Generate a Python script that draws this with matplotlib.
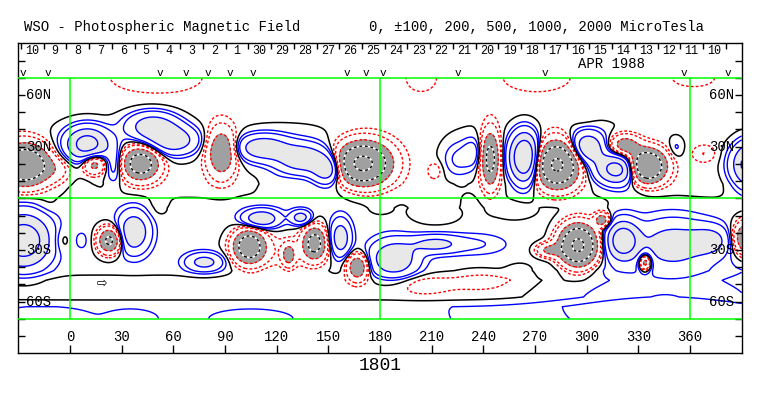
import numpy as np
import matplotlib
matplotlib.use('Agg')
import matplotlib.pyplot as plt

# axis labels
lon_ticks = [0, 30, 60, 90, 120, 150, 180, 210, 240, 270, 300, 330, 360]
lat_ticks = [6/7, 3/7, -3/7, -6/7]
lat_labels = ['60N', '30N', '30S', '60S']
day_labels = ['10', '9', '8', '7', '6', '5', '4', '3', '2', '1', '30', '29', '28', '27', '26',
              '25', '24', '23', '22', '21', '20', '19', '18', '17', '16', '15', '14', '13',
              '12', '11', '10']
v_marks = [-27.3, -12.8, 52.3, 67.4, 80.1, 92.9, 106.3, 160.8, 171.9, 181.7, 225.3, 275.8, 356.5, 382.0]

# field features (lon, sine-lat, microtesla, spread lon, spread lat)
blob_lon = [-26, -8, 10, 14, 26, 41, 48, 60, 88, 112, 135, 150, 170, 212, 225, 234, 244, 264,
            283, 300, 318, 335, 322, 352, 368, 397,
            50, 204, 271, 362, 298,
            10, 130, 235, 315,
            -27, -5, 7, 23, 37, 78, 104, 111, 134, 127, 125, 142, 157, 167,
            188, 212, 236, 205, 240, 262, 295, 278, 309, 321, 350, 372, 334, 395,
            345, -15, 35, 105, 212, 258,
            -13, 51, 180, 305, 6, 118, 160, 330]
blob_lat = [0.28, 0.24, 0.45, 0.29, 0.28, 0.29, 0.60, 0.48, 0.38, 0.42, 0.33, 0.24, 0.29, 0.23,
            0.32, 0.38, 0.33, 0.34, 0.28, 0.42, 0.24, 0.27, 0.44, 0.42, 0.37, 0.28,
            1.0, 1.0, 1.0, 1.0, 0.68,
            0.38, 0.38, 0.38, 0.38,
            -0.35, -0.35, -0.35, -0.35, -0.28, -0.53, -0.40, -0.17, -0.16, -0.47, -0.45, -0.37,
            -0.33, -0.57,
            -0.5, -0.38, -0.38, -0.72, -0.68, -0.6, -0.39, -0.43, -0.18, -0.35, -0.38, -0.35,
            -0.53, -0.33,
            -0.88, -1.0, -1.0, -1.0, -0.12, -0.1,
            -0.06, -0.08, -0.08, -0.06, 0.08, 0.1, 0.06, 0.06]
blob_amp = [-1900, -250, 1300, -800, 350, -1500, 800, 800, -1000, 850, 850, 900, -2300, -160,
            220, 260, -1300, 1900, -2200, 900, 1300, -2100, -800, 150, -160, 1600,
            -110, -100, -105, -95, -70,
            110, 110, 90, 110,
            1500, -150, 90, -1200, 900, 650, -1600, 900, 700, -700, -180, -1300, 800, -1000,
            900, 600, 170, -130, -130, -100, -2300, -600, -800, 1500, 700, 550, -900, -1400,
            250, 40, 40, 40, -90, -90,
            -60, -70, -60, -60, 70, 70, 50, 50]
blob_wlon = [9, 7, 8, 4.5, 3.5, 7, 10, 10, 5.5, 10, 10, 6, 10, 3, 6, 4, 3.5, 5.5, 8, 7, 8, 7, 6,
             3, 5, 8,
             20, 7, 15, 10, 5,
             30, 28, 15, 25,
             10, 4, 4, 4.5, 6, 7, 6, 7, 4, 2.5, 18, 4.5, 4, 4,
             9, 10, 12, 12, 14, 6, 7, 5, 3, 6, 14, 8, 2.5, 6,
             45, 15, 8, 12, 12, 10,
             5, 5, 6, 8, 5, 5, 8, 8]
blob_wlat = [0.11, 0.07, 0.09, 0.06, 0.1, 0.09, 0.08, 0.08, 0.13, 0.07, 0.08, 0.08, 0.11, 0.05,
             0.1, 0.08, 0.15, 0.13, 0.12, 0.09, 0.08, 0.09, 0.06, 0.06, 0.05, 0.12,
             0.1, 0.09, 0.09, 0.06, 0.05,
             0.2, 0.2, 0.2, 0.2,
             0.14, 0.07, 0.07, 0.07, 0.11, 0.05, 0.09, 0.05, 0.04, 0.06, 0.12, 0.09, 0.1, 0.07,
             0.1, 0.05, 0.06, 0.06, 0.07, 0.05, 0.11, 0.04, 0.04, 0.1, 0.13, 0.08, 0.05, 0.09,
             0.24, 0.05, 0.04, 0.04, 0.08, 0.06,
             0.05, 0.06, 0.05, 0.05, 0.06, 0.06, 0.05, 0.05]

# background by latitude
bg_lat = [-1.0, -0.9, -0.82, -0.68, -0.6, -0.08, 0.12, 1.0]
bg_val = [95, 95, -40, -40, 35, 35, -55, -55]

lon = np.arange(-30, 390.5, 0.5)
lat = np.linspace(-1, 1, 321)
LON, LAT = np.meshgrid(lon, lat)
B = np.interp(LAT, bg_lat, bg_val)
for x0, y0, a, sx, sy in zip(blob_lon, blob_lat, blob_amp, blob_wlon, blob_wlat):
    B += a * np.exp(-0.5 * (((LON - x0) / sx) ** 2 + ((LAT - y0) / sy) ** 2))

fig = plt.figure(figsize=(7.63, 3.96), dpi=100)
top = 9 / 7
ax = fig.add_axes([18.3 / 763, 1 - 353.2 / 396, (741.7 - 18.3) / 763, (353.2 - 43.4) / 396])
ax.set_xlim(-30, 390)
ax.set_ylim(-top, top)
ax.set_xticks([])
ax.set_yticks([])
for s in ax.spines.values():
    s.set_linewidth(1.0)

# shading
ax.contourf(LON, LAT, B, levels=[-1e5, -500], colors=['#a0a0a0'])
ax.contourf(LON, LAT, B, levels=[500, 1e5], colors=['#e8e8e8'])
# contours
ax.contour(LON, LAT, B, levels=[100, 200, 500, 1000, 2000], colors='#0000ff',
           linewidths=1.0, linestyles='solid')
cs = ax.contour(LON, LAT, B, levels=[-500, -200, -100], colors='#ff0000',
                linewidths=1.0, linestyles='solid')
cs.set_linestyle((0, (2, 1.5)))
ax.contour(LON, LAT, B, levels=[-2000, -1000], colors='white', linewidths=1.2, linestyles='solid')
cs = ax.contour(LON, LAT, B, levels=[-2000, -1000], colors='black', linewidths=1.0,
                linestyles='solid')
cs.set_linestyle((0, (2, 2)))
ax.contour(LON, LAT, B, levels=[0], colors='black', linewidths=1.1, linestyles='solid')

# green grid
for y in (-1, 0, 1):
    ax.axhline(y, color='#00ff00', lw=1.1, zorder=4)
ax.vlines([0, 180, 360], -1, 1, color='#00ff00', lw=1.1, zorder=4)

mono = 'Liberation Mono'

# bottom longitude axis
ax.vlines(lon_ticks, -top, -top + 0.066, color='k', lw=1)
for t in lon_ticks:
    ax.text(t, -1.151, str(t), ha='center', va='center', fontsize=10, family=mono)

# latitude ticks both sides
for k in range(-8, 9):
    ax.hlines(k / 7, -30, -26, color='k', lw=1)
    ax.hlines(k / 7, 386, 390, color='k', lw=1)
for yt, lab in zip(lat_ticks, lat_labels):
    ax.text(-25.5, yt, lab, ha='left', va='center', fontsize=10, family=mono)
    ax.text(385.5, yt, lab, ha='right', va='center', fontsize=10, family=mono)

# day row at top
day_step = 360 / 27.2753
day0 = -28.45
day_pos = [day0 + day_step * i for i in range(len(day_labels) + 1)]
ax.vlines(day_pos, top - 0.045, top, color='k', lw=1)
for i, lab in enumerate(day_labels):
    ax.text(day0 + day_step * (i + 0.5), 1.22, lab, ha='center', va='center',
            fontsize=8.5, family=mono)
for v in v_marks:
    ax.text(v, 1.04, 'v', ha='center', va='center', fontsize=8, family=mono)
ax.text(314.2, 1.118, 'APR 1988', ha='center', va='center', fontsize=10, family=mono)
ax.text(18.6, -0.70, '\u21e8', ha='center', va='center', fontsize=9, family='DejaVu Sans')

fig.text(24 / 763, 1 - 27 / 396, 'WSO - Photospheric Magnetic Field', ha='left', va='center',
         fontsize=10, family=mono)
fig.text(369 / 763, 1 - 27 / 396, '0, \u00b1100, 200, 500, 1000, 2000 MicroTesla', ha='left',
         va='center', fontsize=10, family=mono)
fig.text(380 / 763, 1 - 365 / 396, '1801', ha='center', va='center', fontsize=13, family=mono)

fig.savefig('out.png', dpi=100)
